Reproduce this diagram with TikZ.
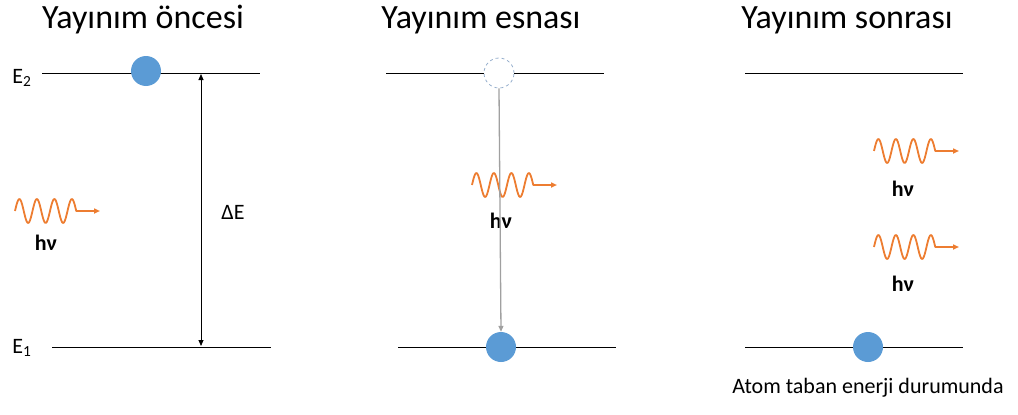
\documentclass[tikz,border=0pt]{standalone}
\usepackage{fontspec}
\setmainfont{Carlito}
\usetikzlibrary{
  arrows.meta,
  positioning
}
\definecolor{ballblue}{RGB}{91,155,213}
\definecolor{holeblue}{RGB}{150,175,205}
\definecolor{photonorange}{RGB}{237,125,49}
\definecolor{dropgray}{RGB}{160,160,160}
\tikzset{
  level/.style={
    draw=black, line width=0.9pt
  },
  electron/.style={
    circle, fill=ballblue, minimum size=30pt, inner sep=0pt
  },
  hole/.style={
    circle, draw=holeblue, fill=white, dashed, line width=0.8pt,
    minimum size=30pt, inner sep=0pt
  },
  gaparrow/.style={
    {Triangle[length=6pt,width=5pt]}-{Triangle[length=6pt,width=5pt]},
    draw=black, line width=0.8pt
  },
  droparrow/.style={
    -{Triangle[length=6pt,width=5pt]},
    draw=dropgray, line width=1.3pt
  },
  photonline/.style={
    -{Triangle[length=6pt,width=5pt]},
    draw=photonorange, line width=1.8pt, line join=round
  },
  photon/.pic={
    \draw[photonline] plot[domain=0:61.25, samples=70, smooth]
      (\x,{-12*sin(\x/17.5*360)}) -- (85,0);
  },
  stagetitle/.style={
    font=\fontsize{34}{40}\selectfont
  },
  hvlabel/.style={
    font=\fontsize{22}{26}\selectfont\bfseries
  },
  levellabel/.style={
    font=\fontsize{22}{26}\selectfont
  },
}

\begin{document}
\begin{tikzpicture}[x=1pt, y=-1pt]
  \useasboundingbox (0,0) rectangle (1018,415);

  %% Titles
  \node[stagetitle] (t1) at (143,20) {Yayınım öncesi};
  \node[stagetitle] (t2) at (481,20) {Yayınım esnası};
  \node[stagetitle] (t3) at (847,20) {Yayınım sonrası};

  %% Before emission
  \coordinate (a2l) at (42,73);  \coordinate (a2r) at (260,73);
  \coordinate (a1l) at (52,347); \coordinate (a1r) at (271,347);
  \draw[level] (a2l) -- (a2r);
  \draw[level] (a1l) -- (a1r);
  \node[levellabel] (e2) at (22,78) {E\textsubscript{2}};
  \node[levellabel] (e1) at (22,348) {E\textsubscript{1}};
  \node[electron] (ea) at (146,71) {};

  \coordinate (gtop) at (201,74);
  \coordinate (gbot) at (201,346);
  \draw[gaparrow] (gtop) -- (gbot);
  \node[levellabel] (de) at (233,212) {ΔE};

  \pic at (15,211) {photon};
  \node[hvlabel] (hv1) at (46,243) {hν};

  %% During emission
  \coordinate (b2l) at (386,73); \coordinate (b2r) at (604,73);
  \coordinate (b1l) at (398,347); \coordinate (b1r) at (616,347);
  \draw[level] (b2l) -- (b2r);
  \draw[level] (b1l) -- (b1r);
  \node[hole] (hb) at (499,73) {};
  \node[electron] (eb) at (501,347) {};

  \pic at (472,185) {photon};
  \node[hvlabel] (hv2) at (501,221) {hν};
  \draw[droparrow] (hb.south) -- (eb.north);

  %% After emission
  \coordinate (c2l) at (745,73); \coordinate (c2r) at (963,73);
  \coordinate (c1l) at (745,347); \coordinate (c1r) at (963,347);
  \draw[level] (c2l) -- (c2r);
  \draw[level] (c1l) -- (c1r);
  \node[electron] (ec) at (868,347) {};

  \pic at (874,151) {photon};
  \node[hvlabel] (hv3) at (903,189) {hν};
  \pic at (874,247) {photon};
  \node[hvlabel] (hv4) at (903,284) {hν};

  \node[levellabel, below=12pt of ec] (ground) {Atom taban enerji durumunda};

\end{tikzpicture}
\end{document}
